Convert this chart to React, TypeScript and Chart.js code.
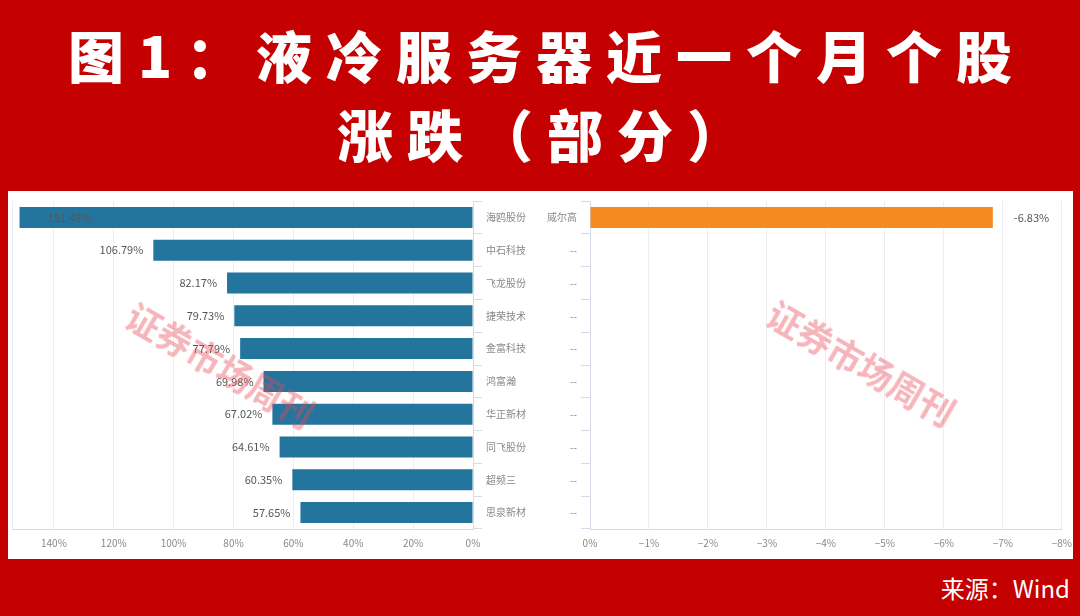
import React, { useEffect, useRef } from "react";
import { Chart, registerables } from "chart.js";

Chart.register(...registerables);

const gainCategories = ["海鸥股份", "中石科技", "飞龙股份", "捷荣技术", "金富科技", "鸿富瀚", "华正新材", "同飞股份", "超频三", "思泉新材"];
const gainValues = [151.48, 106.79, 82.17, 79.73, 77.79, 69.98, 67.02, 64.61, 60.35, 57.65];
const declineCategories = ["威尔高", "--", "--", "--", "--", "--", "--", "--", "--", "--"];
const declineValues: (number | null)[] = [-6.83, null, null, null, null, null, null, null, null, null];
const titleLine1 = "图1：液冷服务器近一个月个股";
const titleLine2 = "涨跌（部分）";
const sourceText = "来源：Wind";
const watermarkText = "证券市场周刊";

const FONT = '"Noto Sans CJK SC", "Noto Sans", sans-serif';
const GRID = "#eceef3";
const AXIS = "#d5dbea";
const TICK = "#888888";

const leftLabelPlugin = {
  id: "leftLabels",
  afterDatasetsDraw(chart: any) {
    const ctx = chart.ctx;
    const meta = chart.getDatasetMeta(0);
    const data = chart.data.datasets[0].data;
    ctx.save();
    ctx.font = "11px " + FONT;
    ctx.fillStyle = "#555";
    ctx.textBaseline = "middle";
    meta.data.forEach((el: any, i: number) => {
      const txt = data[i].toFixed(2) + "%";
      const w = ctx.measureText(txt).width;
      let x = el.x - 10;
      if (x - w < chart.chartArea.left) {
        ctx.textAlign = "left";
        ctx.fillText(txt, el.x + 28, el.y);
      } else {
        ctx.textAlign = "right";
        ctx.fillText(txt, x, el.y);
      }
    });
    ctx.restore();
  },
};

const rightLabelPlugin = {
  id: "rightLabels",
  afterDatasetsDraw(chart: any) {
    const ctx = chart.ctx;
    const meta = chart.getDatasetMeta(0);
    const data = chart.data.datasets[0].data;
    ctx.save();
    ctx.font = "11px " + FONT;
    ctx.fillStyle = "#555";
    ctx.textBaseline = "middle";
    ctx.textAlign = "left";
    meta.data.forEach((el: any, i: number) => {
      const v = data[i];
      if (v === null || v === undefined) return;
      ctx.fillText(v.toFixed(2) + "%", el.x + 21, el.y);
    });
    ctx.restore();
  },
};

function LeftChart() {
  const ref = useRef<HTMLCanvasElement>(null);
  useEffect(() => {
    const chart = new Chart(ref.current!, {
      type: "bar",
      data: {
        labels: gainCategories,
        datasets: [
          {
            data: gainValues,
            backgroundColor: "#23759e",
            categoryPercentage: 0.64,
            barPercentage: 1,
          },
        ],
      },
      options: {
        indexAxis: "y",
        animation: false,
        responsive: true,
        maintainAspectRatio: false,
        layout: { padding: { left: 0, top: 2, bottom: 1, right: 0 } },
        plugins: { legend: { display: false }, tooltip: { enabled: false } },
        scales: {
          x: {
            type: "linear",
            reverse: true,
            min: 0,
            max: 154,
            ticks: {
              stepSize: 20,
              padding: 8,
              color: TICK,
              font: { size: 10, family: FONT },
              maxRotation: 0,
              callback: (v: any) => (v % 20 === 0 ? v + "%" : ""),
            },
            grid: { color: GRID, drawTicks: false },
            border: { color: AXIS },
          },
          y: {
            position: "right",
            ticks: { color: TICK, padding: 4, font: { size: 10, family: FONT } },
            grid: { drawOnChartArea: false, tickLength: 9, color: AXIS },
            border: { color: AXIS },
            afterFit: (s: any) => {
              s.width = 67;
            },
          },
        },
      },
      plugins: [leftLabelPlugin],
    } as any);
    return () => chart.destroy();
  }, []);
  return (
    <div style={{ position: "absolute", left: 4, top: 191, width: 536, height: 367 }}>
      <canvas ref={ref} />
    </div>
  );
}

function RightChart() {
  const ref = useRef<HTMLCanvasElement>(null);
  useEffect(() => {
    const chart = new Chart(ref.current!, {
      type: "bar",
      data: {
        labels: declineCategories,
        datasets: [
          {
            data: declineValues,
            backgroundColor: "#f58a1f",
            categoryPercentage: 0.64,
            barPercentage: 1,
          },
        ],
      },
      options: {
        indexAxis: "y",
        animation: false,
        responsive: true,
        maintainAspectRatio: false,
        layout: { padding: { left: 0, top: 2, bottom: 1, right: 17 } },
        plugins: { legend: { display: false }, tooltip: { enabled: false } },
        scales: {
          x: {
            type: "linear",
            reverse: true,
            min: -8,
            max: 0,
            ticks: {
              stepSize: 1,
              padding: 8,
              color: TICK,
              font: { size: 10, family: FONT },
              maxRotation: 0,
              callback: (v: any) => (v === 0 ? "0%" : "−" + Math.abs(v) + "%"),
            },
            grid: { color: GRID, drawTicks: false },
            border: { color: AXIS },
          },
          y: {
            position: "left",
            ticks: { color: TICK, padding: 4, font: { size: 10, family: FONT } },
            grid: { drawOnChartArea: false, tickLength: 9, color: AXIS },
            border: { color: AXIS },
            afterFit: (s: any) => {
              s.width = 52;
            },
          },
        },
      },
      plugins: [rightLabelPlugin],
    } as any);
    return () => chart.destroy();
  }, []);
  return (
    <div style={{ position: "absolute", left: 538, top: 191, width: 542, height: 367 }}>
      <canvas ref={ref} />
    </div>
  );
}

function Watermark({ cx, cy }: { cx: number; cy: number }) {
  return (
    <div
      style={{
        position: "absolute",
        left: cx,
        top: cy,
        transform: "translate(-50%, -50%) rotate(30deg)",
        fontFamily: FONT,
        fontWeight: 700,
        fontSize: 35,
        color: "rgba(232, 70, 85, 0.4)",
        whiteSpace: "nowrap",
        pointerEvents: "none",
        lineHeight: 1,
      }}
    >
      {watermarkText}
    </div>
  );
}

const titleStyle: React.CSSProperties = {
  position: "absolute",
  left: 0,
  width: 1080,
  boxSizing: "border-box",
  paddingLeft: 14,
  textAlign: "center",
  color: "#fff",
  fontWeight: 900,
  fontSize: 56,
  letterSpacing: 14,
  lineHeight: "64px",
  whiteSpace: "nowrap",
};

export default function App() {
  return (
    <div
      style={{
        position: "absolute",
        left: 0,
        top: 0,
        width: 1080,
        height: 616,
        background: "#c40000",
        overflow: "hidden",
        fontFamily: FONT,
      }}
    >
      <div style={{ ...titleStyle, top: 22 }}>{titleLine1}</div>
      <div style={{ ...titleStyle, top: 101 }}>{titleLine2}</div>
      <div style={{ position: "absolute", left: 8, top: 191, width: 1065, height: 368, background: "#fff" }} />
      <LeftChart />
      <RightChart />
      <Watermark cx={221} cy={364} />
      <Watermark cx={862} cy={362} />
      <div
        style={{
          position: "absolute",
          right: 10,
          top: 572,
          color: "#fff",
          fontSize: 24,
          lineHeight: "32px",
          whiteSpace: "nowrap",
        }}
      >
        {sourceText}
      </div>
    </div>
  );
}
